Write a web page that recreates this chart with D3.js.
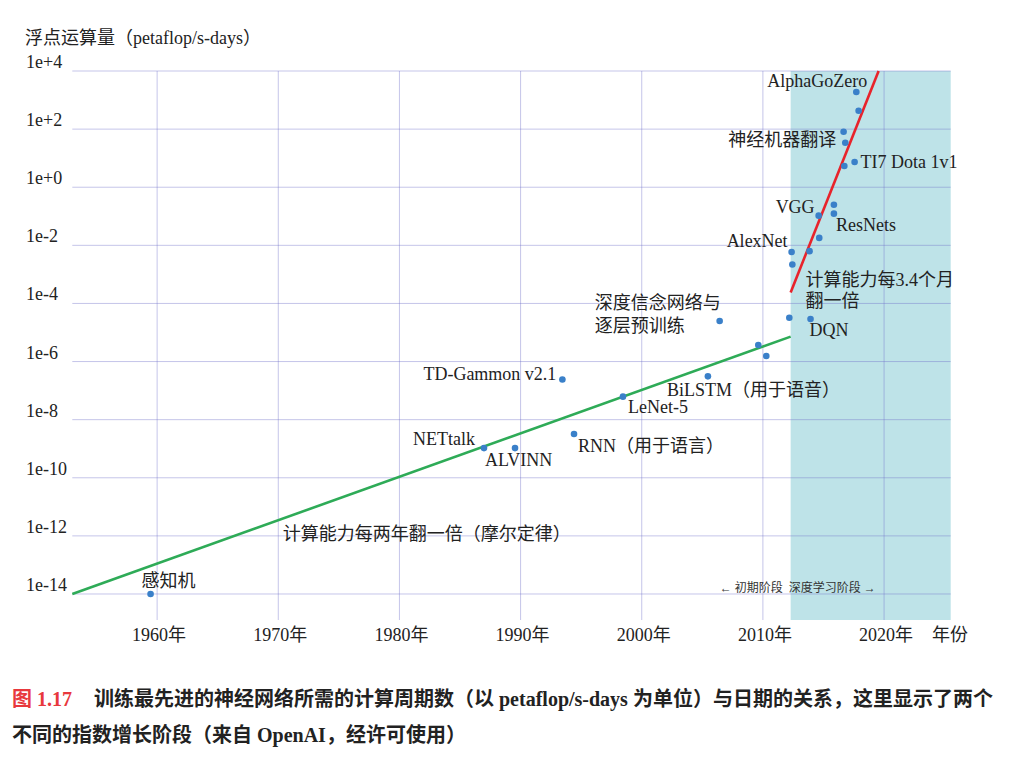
<!DOCTYPE html>
<html><head><meta charset="utf-8">
<script src="https://cdn.jsdelivr.net/npm/d3@7/dist/d3.min.js"></script>
<style>body{margin:0;background:#fff}svg{display:block}</style>
</head><body>
<svg id="chart" width="1026" height="763"></svg>
<script>
// ---------- data ----------
const years = [1959.46, 1986.98, 1989.54, 1994.41, 1993.45, 1998.45, 2005.46, 2006.43,
  2009.62, 2010.28, 2012.18, 2013.93, 2012.43, 2012.37, 2013.85, 2014.65, 2014.60,
  2015.86, 2015.86, 2016.72, 2017.57, 2016.80, 2016.66, 2017.90, 2017.71];
const compute = [1e-14, 1.05e-9, 1.05e-9, 3.2e-9, 2.4e-7, 6.2e-8, 3.1e-7, 2.5e-5,
  3.7e-6, 1.55e-6, 3.2e-5, 2.9e-5, 2.2e-3, 5.9e-3, 6.3e-3, 1.8e-2, 0.105,
  0.123, 0.25, 5.4, 7.4, 34, 81, 430, 1900];
const pointNames = ["感知机", "NETtalk", "ALVINN", "RNN（用于语言）", "TD-Gammon v2.1", "LeNet-5",
  "BiLSTM（用于语音）", "深度信念网络与|逐层预训练", "", "", "", "DQN", "", "AlexNet", "", "",
  "VGG", "ResNets", "", "", "TI7 Dota 1v1", "神经机器翻译", "", "", "AlphaGoZero"];

const yTickValues = [1e4, 1e2, 1e0, 1e-2, 1e-4, 1e-6, 1e-8, 1e-10, 1e-12, 1e-14];
const yTickLabels = ["1e+4", "1e+2", "1e+0", "1e-2", "1e-4", "1e-6", "1e-8", "1e-10", "1e-12", "1e-14"];
const xTickYears = [1960, 1970, 1980, 1990, 2000, 2010, 2020];
const xTickLabels = ["1960年", "1970年", "1980年", "1990年", "2000年", "2010年", "2020年"];

const mooreYears = [1953, 2012.29];
const mooreValues = [1e-14, 7.2e-6];
const dlYears = [2012.29, 2019.55];
const dlValues = [2.4e-4, 1e4];
const eraBoundary = [2012.29, 2025.5];

const trendNotes = ["计算能力每两年翻一倍（摩尔定律）", "计算能力每3.4个月|翻一倍"];
const trendNoteYears = [1970.37, 2013.52];
const trendNoteValues = [7.2e-13, 4.0e-4];

const yTitle = "浮点运算量（petaflop/s-days）";
const xTitle = "年份";
const eraLeft = "← 初期阶段";
const eraRight = "深度学习阶段 →";
const captionNum = "图 1.17";
const captionLine1 = "训练最先进的神经网络所需的计算周期数（以 petaflop/s-days 为单位）与日期的关系，这里显示了两个";
const captionLine2 = "不同的指数增长阶段（来自 OpenAI，经许可使用）";

// ---------- layout (label placement relative to its point) ----------
const labelLayout = {
  0: {a: "start", dx: -9, dy: -7}, 1: {a: "end", dx: -9, dy: -3}, 2: {a: "start", dx: -30, dy: 18},
  3: {a: "start", dx: 4, dy: 18}, 4: {a: "end", dx: -6, dy: 0}, 5: {a: "start", dx: 5, dy: 16},
  6: {a: "start", dx: -41, dy: 20}, 7: {a: "start", dx: -125, dy: -12}, 11: {a: "start", dx: -1, dy: 17},
  13: {a: "end", dx: -4, dy: -5}, 16: {a: "end", dx: -4, dy: -3}, 17: {a: "start", dx: 2, dy: 17},
  20: {a: "start", dx: 6, dy: 6}, 21: {a: "end", dx: -9, dy: 3}, 24: {a: "end", dx: 11, dy: -5}
};

const FONT = "'Liberation Serif', 'Noto Sans CJK SC', serif";
const svg = d3.select("#chart");
svg.append("rect").attr("width", 1026).attr("height", 763).attr("fill", "#fff");

const x = d3.scaleLinear().domain([1953, 2025.5]).range([72.3, 950.7]);
const y = d3.scaleLog().domain([Math.pow(10, -14.895), 1e4]).range([620, 71]);
const [x0, x1] = x.range();
const [yb, yt] = y.range();

// deep learning era background
svg.append("rect")
  .attr("x", x(eraBoundary[0])).attr("y", yt)
  .attr("width", x(eraBoundary[1]) - x(eraBoundary[0])).attr("height", yb - yt)
  .attr("fill", "#bee3e8");

// grid
const gridColor = "rgba(110,110,200,0.40)";
svg.append("g").selectAll("line").data(yTickValues).join("line")
  .attr("x1", x0).attr("x2", x1).attr("y1", d => y(d)).attr("y2", d => y(d))
  .attr("stroke", gridColor).attr("stroke-width", 1);
svg.append("g").selectAll("line").data(xTickYears).join("line")
  .attr("x1", d => x(d)).attr("x2", d => x(d)).attr("y1", yt).attr("y2", yb)
  .attr("stroke", gridColor).attr("stroke-width", 1);

// y tick labels
svg.append("g").selectAll("text").data(yTickValues).join("text")
  .attr("x", 26).attr("y", d => y(d) - 3)
  .attr("font-family", FONT).attr("font-size", 18).attr("fill", "#222")
  .text((d, i) => yTickLabels[i]);
// x tick labels
svg.append("g").selectAll("text").data(xTickYears).join("text")
  .attr("x", d => x(d) + 2).attr("y", 641).attr("text-anchor", "middle")
  .attr("font-family", FONT).attr("font-size", 18).attr("fill", "#222")
  .text((d, i) => xTickLabels[i]);
svg.append("text").attr("x", 932).attr("y", 641)
  .attr("font-family", FONT).attr("font-size", 18).attr("fill", "#222").text(xTitle);
svg.append("text").attr("x", 25).attr("y", 44)
  .attr("font-family", FONT).attr("font-size", 18).attr("fill", "#222").text(yTitle);

// trend lines
const line = d3.line().x(d => x(d[0])).y(d => y(d[1]));
svg.append("path").datum(mooreYears.map((v, i) => [v, mooreValues[i]]))
  .attr("d", line).attr("fill", "none").attr("stroke", "#2eab57").attr("stroke-width", 2.6);
svg.append("path").datum(dlYears.map((v, i) => [v, dlValues[i]]))
  .attr("d", line).attr("fill", "none").attr("stroke", "#e8232b").attr("stroke-width", 2.6);

// points
svg.append("g").selectAll("circle").data(years.map((v, i) => [v, compute[i]])).join("circle")
  .attr("cx", d => x(d[0])).attr("cy", d => y(d[1])).attr("r", 3.3).attr("fill", "#3a80c9");

// point labels
const lab = svg.append("g").attr("font-family", FONT).attr("font-size", 18).attr("fill", "#222");
pointNames.forEach((name, i) => {
  if (!name) return;
  const L = labelLayout[i];
  const t = lab.append("text").attr("text-anchor", L.a);
  name.split("|").forEach((s, k) => {
    t.append("tspan").attr("x", x(years[i]) + L.dx).attr("y", y(compute[i]) + L.dy + k * 23).text(s);
  });
});

// trend notes
trendNotes.forEach((note, i) => {
  const t = lab.append("text");
  note.split("|").forEach((s, k) => {
    t.append("tspan").attr("x", x(trendNoteYears[i])).attr("y", y(trendNoteValues[i]) + k * 21).text(s);
  });
});

// era labels
const eraG = svg.append("g").attr("font-family", FONT).attr("font-size", 12).attr("fill", "#333");
eraG.append("text").attr("x", x(eraBoundary[0]) - 8).attr("y", 592).attr("text-anchor", "end").text(eraLeft);
eraG.append("text").attr("x", x(eraBoundary[0]) - 2).attr("y", 592).text(eraRight);

// caption
const cap = svg.append("g").attr("font-family", FONT).attr("font-size", 20).attr("font-weight", "bold").attr("fill", "#222");
cap.append("text").attr("x", 12).attr("y", 706).attr("fill", "#e8383d").text(captionNum);
cap.append("text").attr("x", 94).attr("y", 706).text(captionLine1);
cap.append("text").attr("x", 12).attr("y", 742).text(captionLine2);
</script>
</body></html>
